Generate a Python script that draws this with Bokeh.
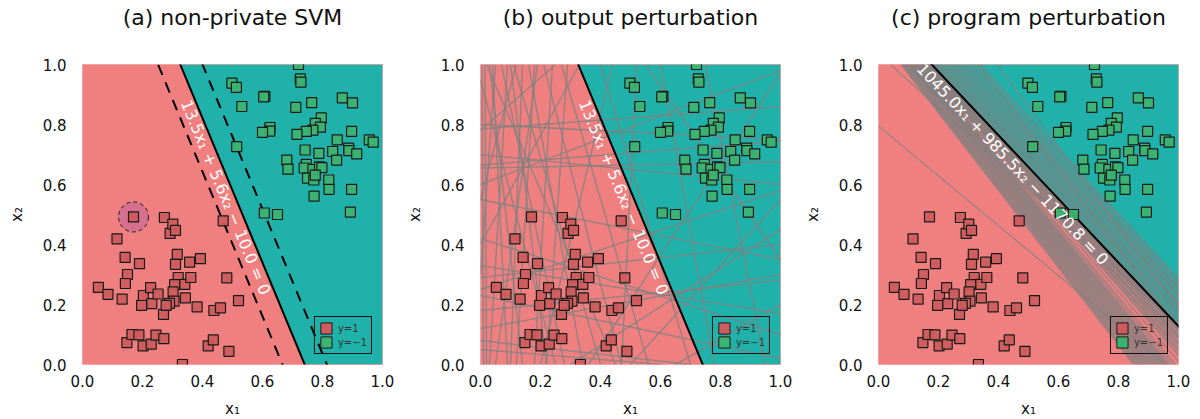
import numpy as np
from bokeh.plotting import figure
from bokeh.layouts import row
from bokeh.models import ColumnDataSource, FixedTicker, Legend, LegendItem, Range1d, Title
from bokeh.core.properties import value
from bokeh.embed import file_html
from bokeh.resources import INLINE

FONT = "DejaVu Sans"

titles = ["(a) non-private SVM", "(b) output perturbation", "(c) program perturbation"]
tick_values = [0.0, 0.2, 0.4, 0.6, 0.8, 1.0]
tick_labels = ["0.0", "0.2", "0.4", "0.6", "0.8", "1.0"]
legend_labels = ["y=1", "y=\u22121"]
x_label = "x\u2081"
y_label = "x\u2082"

# class y = 1
pos_x1 = [0.053, 0.085, 0.115, 0.142, 0.150, 0.143, 0.132, 0.170, 0.190, 0.148,
          0.165, 0.188, 0.202, 0.197, 0.203, 0.227, 0.231, 0.229, 0.245, 0.252,
          0.271, 0.270, 0.273, 0.292, 0.301, 0.310, 0.316, 0.310, 0.319, 0.307,
          0.302, 0.305, 0.290, 0.279, 0.341, 0.343, 0.357, 0.361, 0.382, 0.393,
          0.333, 0.419, 0.436, 0.438, 0.460, 0.469, 0.481, 0.488, 0.520]
pos_x2 = [0.257, 0.234, 0.419, 0.357, 0.300, 0.270, 0.218, 0.492, 0.336, 0.073,
          0.100, 0.099, 0.062, 0.197, 0.230, 0.256, 0.203, 0.068, 0.098, 0.235,
          0.086, 0.167, 0.490, 0.437, 0.468, 0.447, 0.367, 0.334, 0.290, 0.266,
          0.242, 0.211, 0.204, 0.197, 0.267, 0.222, 0.341, 0.290, 0.192, 0.353,
          0.000, 0.062, 0.082, 0.180, 0.189, 0.479, 0.289, 0.044, 0.213]

# class y = -1
neg_x1 = [0.720, 0.726, 0.728, 0.498, 0.513, 0.608, 0.604, 0.531, 0.711, 0.764,
          0.866, 0.900, 0.796, 0.776, 0.793, 0.768, 0.746, 0.715, 0.625, 0.624,
          0.600, 0.897, 0.849, 0.956, 0.969, 0.514, 0.742, 0.788, 0.834, 0.887,
          0.888, 0.914, 0.847, 0.681, 0.685, 0.746, 0.739, 0.768, 0.790, 0.798,
          0.750, 0.771, 0.776, 0.821, 0.822, 0.897, 0.772, 0.606, 0.650, 0.893]
neg_x2 = [1.000, 0.952, 0.941, 0.938, 0.924, 0.894, 0.892, 0.860, 0.857, 0.873,
          0.889, 0.872, 0.822, 0.804, 0.791, 0.781, 0.777, 0.767, 0.790, 0.778,
          0.774, 0.777, 0.749, 0.749, 0.741, 0.726, 0.715, 0.704, 0.710, 0.721,
          0.713, 0.702, 0.681, 0.681, 0.651, 0.667, 0.655, 0.650, 0.659, 0.656,
          0.621, 0.615, 0.631, 0.615, 0.584, 0.584, 0.561, 0.505, 0.500, 0.508]

# hyperplanes  w1*x1 + w2*x2 + b = 0
svm_w = [13.5, 5.6, -10.0]
prog_w = [1045.0, 985.5, -1170.8]
svm_text = "13.5x\u2081 + 5.6x\u2082 \u2212 10.0 = 0"
prog_text = "1045.0x\u2081 + 985.5x\u2082 \u2212 1170.8 = 0"
highlight_x1 = [0.170]
highlight_x2 = [0.492]

# (b) perturbed hyperplanes, read as endpoints
out_x0 = [0.0, 0.0, 0.0, 0.0, 0.0, 0.0, 0.0, 0.0, 0.0, 0.0, 0.0, 0.0, 0.0,
          0.015, 0.03, 0.05, 0.07, 0.09, 0.11, 0.14, 0.16, 0.19, 0.21, 0.24, 0.27, 0.29,
          0.0, 0.12, 0.33, 0.25, 0.02,
          0.36, 0.50, 0.52, 0.60, 0.40, 0.65, 0.55, 0.75, 0.30, 0.0, 0.0, 0.44, 0.0,
          0.005, 0.04, 0.10, 0.18]
out_y0 = [0.80, 0.785, 0.665, 0.655, 0.70, 0.33, 0.29, 0.25, 0.12, 0.23, 0.42, 0.08, 0.18,
          1.0, 1.0, 1.0, 1.0, 1.0, 1.0, 1.0, 1.0, 1.0, 1.0, 1.0, 1.0, 1.0,
          0.95, 1.0, 1.0, 1.0, 1.0,
          0.0, 0.0, 1.0, 1.0, 1.0, 0.0, 1.0, 1.0, 0.0, 0.55, 0.05, 1.0, 0.60,
          1.0, 1.0, 1.0, 1.0]
out_x1 = [1.0, 1.0, 1.0, 1.0, 1.0, 1.0, 1.0, 1.0, 1.0, 1.0, 1.0, 0.70, 1.0,
          0.02, 0.14, 0.00, 0.28, 0.03, 0.40, 0.10, 0.34, 0.05, 0.47, 0.18, 0.56, 0.22,
          0.25, 0.0, 0.0, 0.0, 0.45,
          1.0, 1.0, 0.47, 0.78, 0.70, 1.0, 1.0, 0.95, 1.0, 1.0, 0.60, 0.20, 1.0,
          0.01, 0.09, 0.22, 0.12]
out_y1 = [0.75, 0.86, 0.745, 0.675, 0.60, 0.17, 0.40, 0.58, 0.30, 0.02, 0.10, 0.0, 0.28,
          0.0, 0.0, 0.30, 0.0, 0.0, 0.0, 0.0, 0.0, 0.0, 0.0, 0.0, 0.0, 0.0,
          0.0, 0.55, 0.40, 0.78, 0.0,
          0.97, 0.55, 0.0, 0.0, 0.0, 0.20, 0.35, 0.0, 0.45, 0.35, 0.0, 0.0, 0.98,
          0.0, 0.0, 0.0, 0.0]

# (c) perturbed hyperplanes: where each crosses the top edge, and where it ends
prog_x0 = [0.075, 0.079, 0.082, 0.085, 0.088, 0.091, 0.094, 0.097, 0.100, 0.103,
           0.105, 0.108, 0.110, 0.113, 0.115, 0.118, 0.120, 0.123, 0.125, 0.128,
           0.130, 0.133, 0.135, 0.138, 0.140, 0.144, 0.148, 0.152, 0.156, 0.160,
           0.164, 0.168, 0.172, 0.175,
           0.142, 0.146, 0.150, 0.154, 0.158, 0.162, 0.166, 0.170, 0.173, 0.176,
           0.180, 0.186, 0.192, 0.198, 0.204, 0.210, 0.217, 0.224, 0.231, 0.238,
           0.246, 0.254, 0.262, 0.270, 0.279, 0.288, 0.298, 0.308, 0.318, 0.330,
           0.342,
           0.332, 0.394, 0.0, 0.040, 0.093]
prog_y0 = [1.0] * 65 + [1.0, 1.0, 0.795, 1.0, 1.0]
prog_x1 = [0.85, 0.855, 0.86, 0.865, 0.87, 0.875, 0.88, 0.885, 0.89, 0.895,
           0.90, 0.905, 0.91, 0.915, 0.92, 0.925, 0.93, 0.935, 0.94, 0.945,
           0.95, 0.955, 0.96, 0.965, 0.97, 0.98, 0.99, 1.0, 1.0, 1.0,
           1.0, 1.0, 1.0, 1.0,
           1.0, 1.0, 1.0, 1.0, 1.0, 1.0, 1.0, 1.0, 1.0, 1.0,
           1.0, 1.0, 1.0, 1.0, 1.0, 1.0, 1.0, 1.0, 1.0, 1.0,
           1.0, 1.0, 1.0, 1.0, 1.0, 1.0, 1.0, 1.0, 1.0, 1.0,
           1.0,
           1.0, 1.0, 0.957, 1.0, 1.0]
prog_y1 = [0.0, 0.0, 0.0, 0.0, 0.0, 0.0, 0.0, 0.0, 0.0, 0.0,
           0.0, 0.0, 0.0, 0.0, 0.0, 0.0, 0.0, 0.0, 0.0, 0.0,
           0.0, 0.0, 0.0, 0.0, 0.0, 0.0, 0.0, 0.01, 0.03, 0.05,
           0.07, 0.09, 0.10, 0.115,
           0.04, 0.05, 0.06, 0.07, 0.08, 0.09, 0.10, 0.11, 0.115, 0.12,
           0.135, 0.14, 0.15, 0.16, 0.17, 0.175, 0.18, 0.19, 0.20, 0.205,
           0.21, 0.22, 0.23, 0.235, 0.24, 0.25, 0.255, 0.26, 0.27, 0.28,
           0.285,
           0.125, 0.194, 0.0, 0.13, 0.09]

RED_BG = "#F08080"
TEAL_BG = "#20B2AA"
POS_COL = "#CD5C5C"
NEG_COL = "#3CB371"


def halfplane_poly(w):
    corners = [(0.0, 0.0), (1.0, 0.0), (1.0, 1.0), (0.0, 1.0)]
    xs, ys = [], []
    n = len(corners)
    for i in range(n):
        a, b = corners[i], corners[(i + 1) % n]
        fa = w[0] * a[0] + w[1] * a[1] + w[2]
        fb = w[0] * b[0] + w[1] * b[1] + w[2]
        if fa > 0:
            xs.append(a[0]); ys.append(a[1])
        if (fa > 0) != (fb > 0):
            t = fa / (fa - fb)
            xs.append(a[0] + t * (b[0] - a[0])); ys.append(a[1] + t * (b[1] - a[1]))
    return xs, ys


def line_pts(w, level=0.0):
    x1 = np.array([-0.5, 1.5])
    x2 = (level - w[2] - w[0] * x1) / w[1]
    return list(x1), list(x2)


def label_anchor(w, x1, off_px):
    x2 = (-w[2] - w[0] * x1) / w[1]
    nrm = np.hypot(w[0], w[1])
    d = off_px / 300.0
    return x1 - w[0] / nrm * d, x2 - w[1] / nrm * d


def make_fig(title, right_border):
    p = figure(frame_width=300, frame_height=300,
               x_range=Range1d(0, 1), y_range=Range1d(0, 1),
               output_backend="svg", toolbar_location=None, tools="",
               min_border_left=82, min_border_right=right_border,
               min_border_top=10, min_border_bottom=50,
               background_fill_color=RED_BG)
    # blank spacer between title and frame (first "above" item sits next to the frame)
    p.add_layout(Title(text=".", text_font_size="10px", text_color="white", standoff=23),
                 "above")
    p.title.text = title
    p.title.align = "center"
    p.title.text_font = FONT
    p.title.text_font_size = "22px"
    p.title.text_font_style = "normal"
    p.title.text_color = "#111111"
    p.title.standoff = 4
    p.outline_line_color = "#F4A3A3"
    p.outline_line_width = 1
    p.grid.visible = False
    for ax in (p.xaxis, p.yaxis):
        ax.ticker = FixedTicker(ticks=tick_values)
        ax.major_label_overrides = {v: s for v, s in zip(tick_values, tick_labels)}
        ax.axis_line_color = None
        ax.major_tick_line_color = None
        ax.minor_tick_line_color = None
        ax.major_tick_out = 0
        ax.major_tick_in = 0
        ax.major_label_text_font = FONT
        ax.major_label_text_font_size = "15px"
        ax.major_label_text_color = "#111111"
        ax.axis_label_text_font = FONT
        ax.axis_label_text_font_size = "15px"
        ax.axis_label_text_font_style = "normal"
        ax.axis_label_text_color = "#111111"
    p.xaxis.axis_label = x_label
    p.yaxis.axis_label = y_label
    p.xaxis.major_label_standoff = 10
    p.xaxis.axis_label_standoff = 10
    p.yaxis.major_label_standoff = 16
    p.yaxis.axis_label_standoff = 14
    return p


def add_points(p):
    p.scatter(pos_x1, pos_x2, marker="square", size=10, fill_color=POS_COL,
              fill_alpha=0.95, line_color="#1a1a1a", line_width=1.2)
    p.scatter(neg_x1, neg_x2, marker="square", size=10, fill_color=NEG_COL,
              fill_alpha=0.95, line_color="#1a1a1a", line_width=1.2)


def add_legend(p):
    # legend proxies: one off-canvas square each, only their legend swatch is seen
    r1 = p.quad(left=[-3.0], right=[-2.9], top=[-2.9], bottom=[-3.0], fill_color=POS_COL,
                line_color="#1a1a1a", line_width=1)
    r2 = p.quad(left=[-3.0], right=[-2.9], top=[-2.9], bottom=[-3.0], fill_color=NEG_COL,
                line_color="#1a1a1a", line_width=1)
    leg = Legend(items=[LegendItem(label=legend_labels[0], renderers=[r1]),
                        LegendItem(label=legend_labels[1], renderers=[r2])],
                 location="bottom_right")
    leg.margin = 10
    leg.padding = 4
    leg.spacing = -3
    leg.glyph_width = 14
    leg.glyph_height = 14
    leg.label_height = 14
    leg.label_standoff = 5
    leg.label_text_font = FONT
    leg.label_text_font_size = "10px"
    leg.label_text_color = "#333333"
    leg.label_text_line_height = 1.0
    leg.border_line_color = "#111111"
    leg.border_line_width = 1
    leg.border_line_alpha = 1
    leg.background_fill_alpha = 0
    p.add_layout(leg)


def add_text(p, w, x1, off_px, txt):
    ax, ay = label_anchor(w, x1, off_px)
    ang = np.arctan2(-w[0], w[1])
    src = ColumnDataSource(dict(x=[ax], y=[ay], text=[txt], angle=[ang]))
    p.text(x="x", y="y", text="text", angle="angle", source=src,
           text_font=value(FONT), text_font_size="16px", text_color="white",
           text_align="center", text_baseline="middle")


figs = []

# (a)
p1 = make_fig(titles[0], 16)
tx, ty = halfplane_poly(svm_w)
p1.patch(tx, ty, fill_color=TEAL_BG, line_color=None)
for lev in (1.0, -1.0):
    lx, ly = line_pts(svm_w, lev)
    p1.line(lx, ly, line_color="black", line_width=2, line_dash="11 8")
lx, ly = line_pts(svm_w)
p1.line(lx, ly, line_color="black", line_width=2)
p1.circle(highlight_x1, highlight_x2, radius=0.05, fill_color="#D5708E",
          line_color="#1a1a1a", line_width=1, line_dash="4 3")
add_points(p1)
add_text(p1, svm_w, 0.505, 9, svm_text)
add_legend(p1)
figs.append(p1)

# (b)
p2 = make_fig(titles[1], 16)
tx, ty = halfplane_poly(svm_w)
p2.patch(tx, ty, fill_color=TEAL_BG, line_color=None)
p2.segment(out_x0, out_y0, out_x1, out_y1, line_color="#808080", line_alpha=0.75,
           line_width=1.5)
lx, ly = line_pts(svm_w)
p2.line(lx, ly, line_color="black", line_width=2)
add_points(p2)
add_text(p2, svm_w, 0.505, 9, svm_text)
add_legend(p2)
figs.append(p2)

# (c)
p3 = make_fig(titles[2], 14)
tx, ty = halfplane_poly(prog_w)
p3.patch(tx, ty, fill_color=TEAL_BG, line_color=None)
p3.segment(prog_x0, prog_y0, prog_x1, prog_y1, line_color="#808080", line_alpha=0.65,
           line_width=1.5)
lx, ly = line_pts(prog_w)
p3.line(lx, ly, line_color="black", line_width=2)
add_points(p3)
add_text(p3, prog_w, 0.47, 9.5, prog_text)
add_legend(p3)
figs.append(p3)

layout = row(*figs)
open("out.html", "w").write(file_html(layout, INLINE))
